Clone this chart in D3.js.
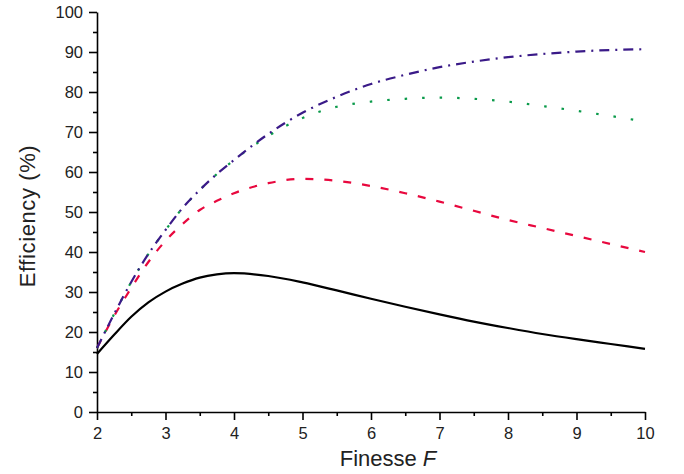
<!DOCTYPE html>
<html>
<head>
<meta charset="utf-8">
<script src="https://cdn.jsdelivr.net/npm/d3@7"></script>
<style>
  body { margin: 0; background: #fff; }
  text { font-family: "Liberation Sans", Arial, sans-serif; fill: #222; }
</style>
</head>
<body>
<svg width="684" height="474"></svg>
<script>
let width = 684,
    height = 474;
let margin = {top: 12, right: 39, bottom: 62, left: 97};

// finesse values (x) and efficiency (%) for each curve
let finesse = [2, 2.25, 2.5, 2.75, 3, 3.25, 3.5, 3.75, 4, 4.5, 5, 5.5, 6, 6.5, 7, 7.5, 8, 8.5, 9, 9.5, 10];
let solid   = [14.5, 19.3, 23.8, 27.4, 30.1, 32.1, 33.6, 34.4, 34.7, 34, 32.4, 30.4, 28.3, 26.3, 24.4, 22.6, 21, 19.5, 18.2, 17, 15.8];
let dashed  = [16, 24, 31, 37.5, 42.8, 47, 50.5, 52.8, 54.7, 57.2, 58.3, 57.8, 56.5, 54.7, 52.6, 50.3, 48, 46, 44, 42, 40];
let dashdot = [16, 24.5, 32.5, 39.5, 45.5, 51, 55.5, 59.5, 63, 69.5, 74.8, 78.8, 82, 84.3, 86.2, 87.6, 88.7, 89.5, 90.1, 90.5, 90.7];
let dotted  = [16, 24.5, 32.5, 39.5, 45.5, 51, 55.5, 59.5, 63, 69, 73.5, 76.3, 77.6, 78.3, 78.6, 78.3, 77.6, 76.5, 75.3, 74, 72.6];

let xTicks = [2, 3, 4, 5, 6, 7, 8, 9, 10];
let yTicks = [0, 10, 20, 30, 40, 50, 60, 70, 80, 90, 100];

let series = [
  {values: solid,   color: "#000000", dash: null},
  {values: dashed,  color: "#e8083e", dash: "8,11"},
  {values: dotted,  color: "#0a9a4a", dash: "2.5,15"},
  {values: dashdot, color: "#3a1a88", dash: "10,6,2,6"}
];

let svg = d3.select("svg");

let x = d3.scaleLinear().domain([2, 10]).range([margin.left, width - margin.right]);
let y = d3.scaleLinear().domain([0, 100]).range([height - margin.bottom, margin.top]);

// minor ticks
svg.append("g")
  .attr("transform", "translate(0," + y(0) + ")")
  .call(d3.axisBottom(x).tickValues(d3.range(2.5, 10, 1)).tickSize(4).tickFormat(""))
  .call(g => g.select(".domain").remove());
svg.append("g")
  .attr("transform", "translate(" + x(2) + ",0)")
  .call(d3.axisLeft(y).tickValues(d3.range(5, 100, 10)).tickSize(4).tickFormat(""))
  .call(g => g.select(".domain").remove());

let xAxis = svg.append("g")
  .attr("transform", "translate(0," + y(0) + ")")
  .call(d3.axisBottom(x).tickValues(xTicks).tickSize(8).tickSizeOuter(0).tickPadding(7).tickFormat(d3.format("d")));

let yAxis = svg.append("g")
  .attr("transform", "translate(" + x(2) + ",0)")
  .call(d3.axisLeft(y).tickValues(yTicks).tickSize(8).tickSizeOuter(0).tickPadding(6).tickFormat(d3.format("d")));

svg.selectAll(".tick text")
  .style("font-size", "16.5px")
  .style("font-family", "'Liberation Sans', Arial, sans-serif")
  .attr("fill", "#222");
svg.selectAll(".domain, .tick line").attr("stroke", "#000").attr("stroke-width", 1.6);

let line = d3.line()
  .x((d, i) => x(finesse[i]))
  .y(d => y(d))
  .curve(d3.curveMonotoneX);

svg.append("g")
  .selectAll("path")
  .data(series)
  .enter().append("path")
    .attr("d", d => line(d.values))
    .attr("fill", "none")
    .attr("stroke", d => d.color)
    .attr("stroke-width", 2.2)
    .attr("stroke-dasharray", d => d.dash);

// axis titles
let xt = svg.append("text")
  .attr("x", 388)
  .attr("y", 466)
  .attr("text-anchor", "middle")
  .style("font-size", "22px");
xt.append("tspan").text("Finesse ");
xt.append("tspan").style("font-style", "italic").text("F");

svg.append("text")
  .attr("transform", "translate(35," + 216 + ") rotate(-90)")
  .attr("text-anchor", "middle")
  .style("font-size", "22px")
  .style("letter-spacing", "0.6px")
  .text("Efficiency (%)");
</script>
</body>
</html>
